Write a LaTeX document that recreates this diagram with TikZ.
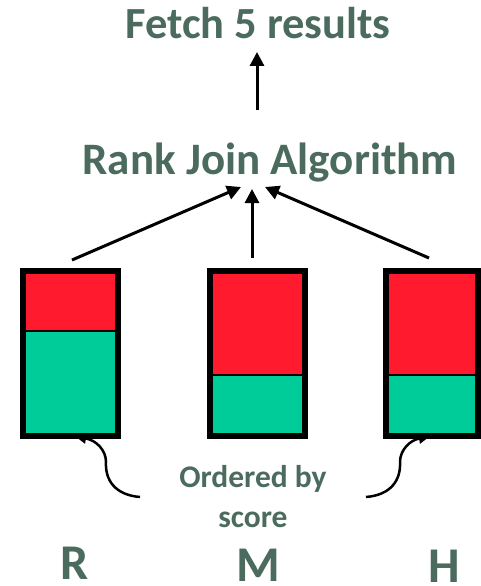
\documentclass[tikz,border=0pt]{standalone}
\usepackage{fontspec}
\setmainfont{Carlito}
\usetikzlibrary{arrows.meta}
\definecolor{txtc}{HTML}{4A6B5D}
\definecolor{redc}{HTML}{FF1A2E}
\definecolor{greenc}{HTML}{00CC99}
\tikzset{
  lbl/.style={text=txtc,font=\bfseries,inner sep=0pt,anchor=base},
  bigarrow/.style={line width=3pt,-{Triangle[length=14pt,width=14pt]}},
  curvearrow/.style={line width=2.5pt,-{Triangle[length=10pt,width=10pt]}},
  boxframe/.style={draw=black,line width=6pt,inner sep=0pt},
  divider/.style={draw=black,line width=2pt}
}
\begin{document}
\begin{tikzpicture}[x=1pt,y=-1pt]
\useasboundingbox (0,0) rectangle (481,586);
% texts
\node[lbl,font=\bfseries\fontsize{44.5}{50}\selectfont] (fetch) at (258,38) {Fetch 5 results};
\node[lbl,font=\bfseries\fontsize{45}{50}\selectfont] (rank) at (270,174) {Rank Join Algorithm};
\node[lbl,font=\bfseries\fontsize{31.5}{36}\selectfont] (ord) at (253,487) {Ordered by};
\node[lbl,font=\bfseries\fontsize{31.5}{36}\selectfont] (score) at (253,527) {score};
\node[lbl,font=\bfseries\fontsize{50}{60}\selectfont] (R) at (75,579) {R};
\node[lbl,font=\bfseries\fontsize{50}{60}\selectfont] (M) at (258,581) {M};
\node[lbl,font=\bfseries\fontsize{50}{60}\selectfont] (H) at (444,582) {H};
% boxes
\fill[redc] (23,271) rectangle (118,331);
\fill[greenc] (23,331) rectangle (118,435.5);
\draw[divider] (23,331) -- (118,331);
\node[boxframe,minimum width=95pt,minimum height=164.5pt] (boxR) at (70.5,353.25) {};
\fill[redc] (210,271) rectangle (305,375);
\fill[greenc] (210,375) rectangle (305,435.5);
\draw[divider] (210,375) -- (305,375);
\node[boxframe,minimum width=95pt,minimum height=164.5pt] (boxM) at (257.5,353.25) {};
\fill[redc] (386,271) rectangle (478,375);
\fill[greenc] (386,375) rectangle (478,435.5);
\draw[divider] (386,375) -- (478,375);
\node[boxframe,minimum width=92pt,minimum height=164.5pt] (boxH) at (432,353.25) {};
% arrow coordinates
\coordinate (fetchS) at (257,110);
\coordinate (fetchT) at (257,52);
\coordinate (aLs) at (72,260);
\coordinate (aLt) at (241,187);
\coordinate (aMs) at (252,258);
\coordinate (aMt) at (252,189);
\coordinate (aRs) at (429,258);
\coordinate (aRt) at (265,187);
\draw[bigarrow] (fetchS) -- (fetchT);
\draw[bigarrow] (aLs) -- (aLt);
\draw[bigarrow] (aMs) -- (aMt);
\draw[bigarrow] (aRs) -- (aRt);
% curved arrows
\coordinate (cLs) at (140,497);
\coordinate (cLm) at (106,462);
\coordinate (cLt) at (76,437);
\coordinate (cRs) at (366,497);
\coordinate (cRm) at (400,462);
\coordinate (cRt) at (429,437);
\draw[curvearrow] (cLs) .. controls (115,495) and (105,480) .. (cLm) .. controls (106,450) and (96,440) .. (cLt);
\draw[curvearrow] (cRs) .. controls (391,495) and (401,480) .. (cRm) .. controls (400,450) and (410,440) .. (cRt);
\end{tikzpicture}
\end{document}
